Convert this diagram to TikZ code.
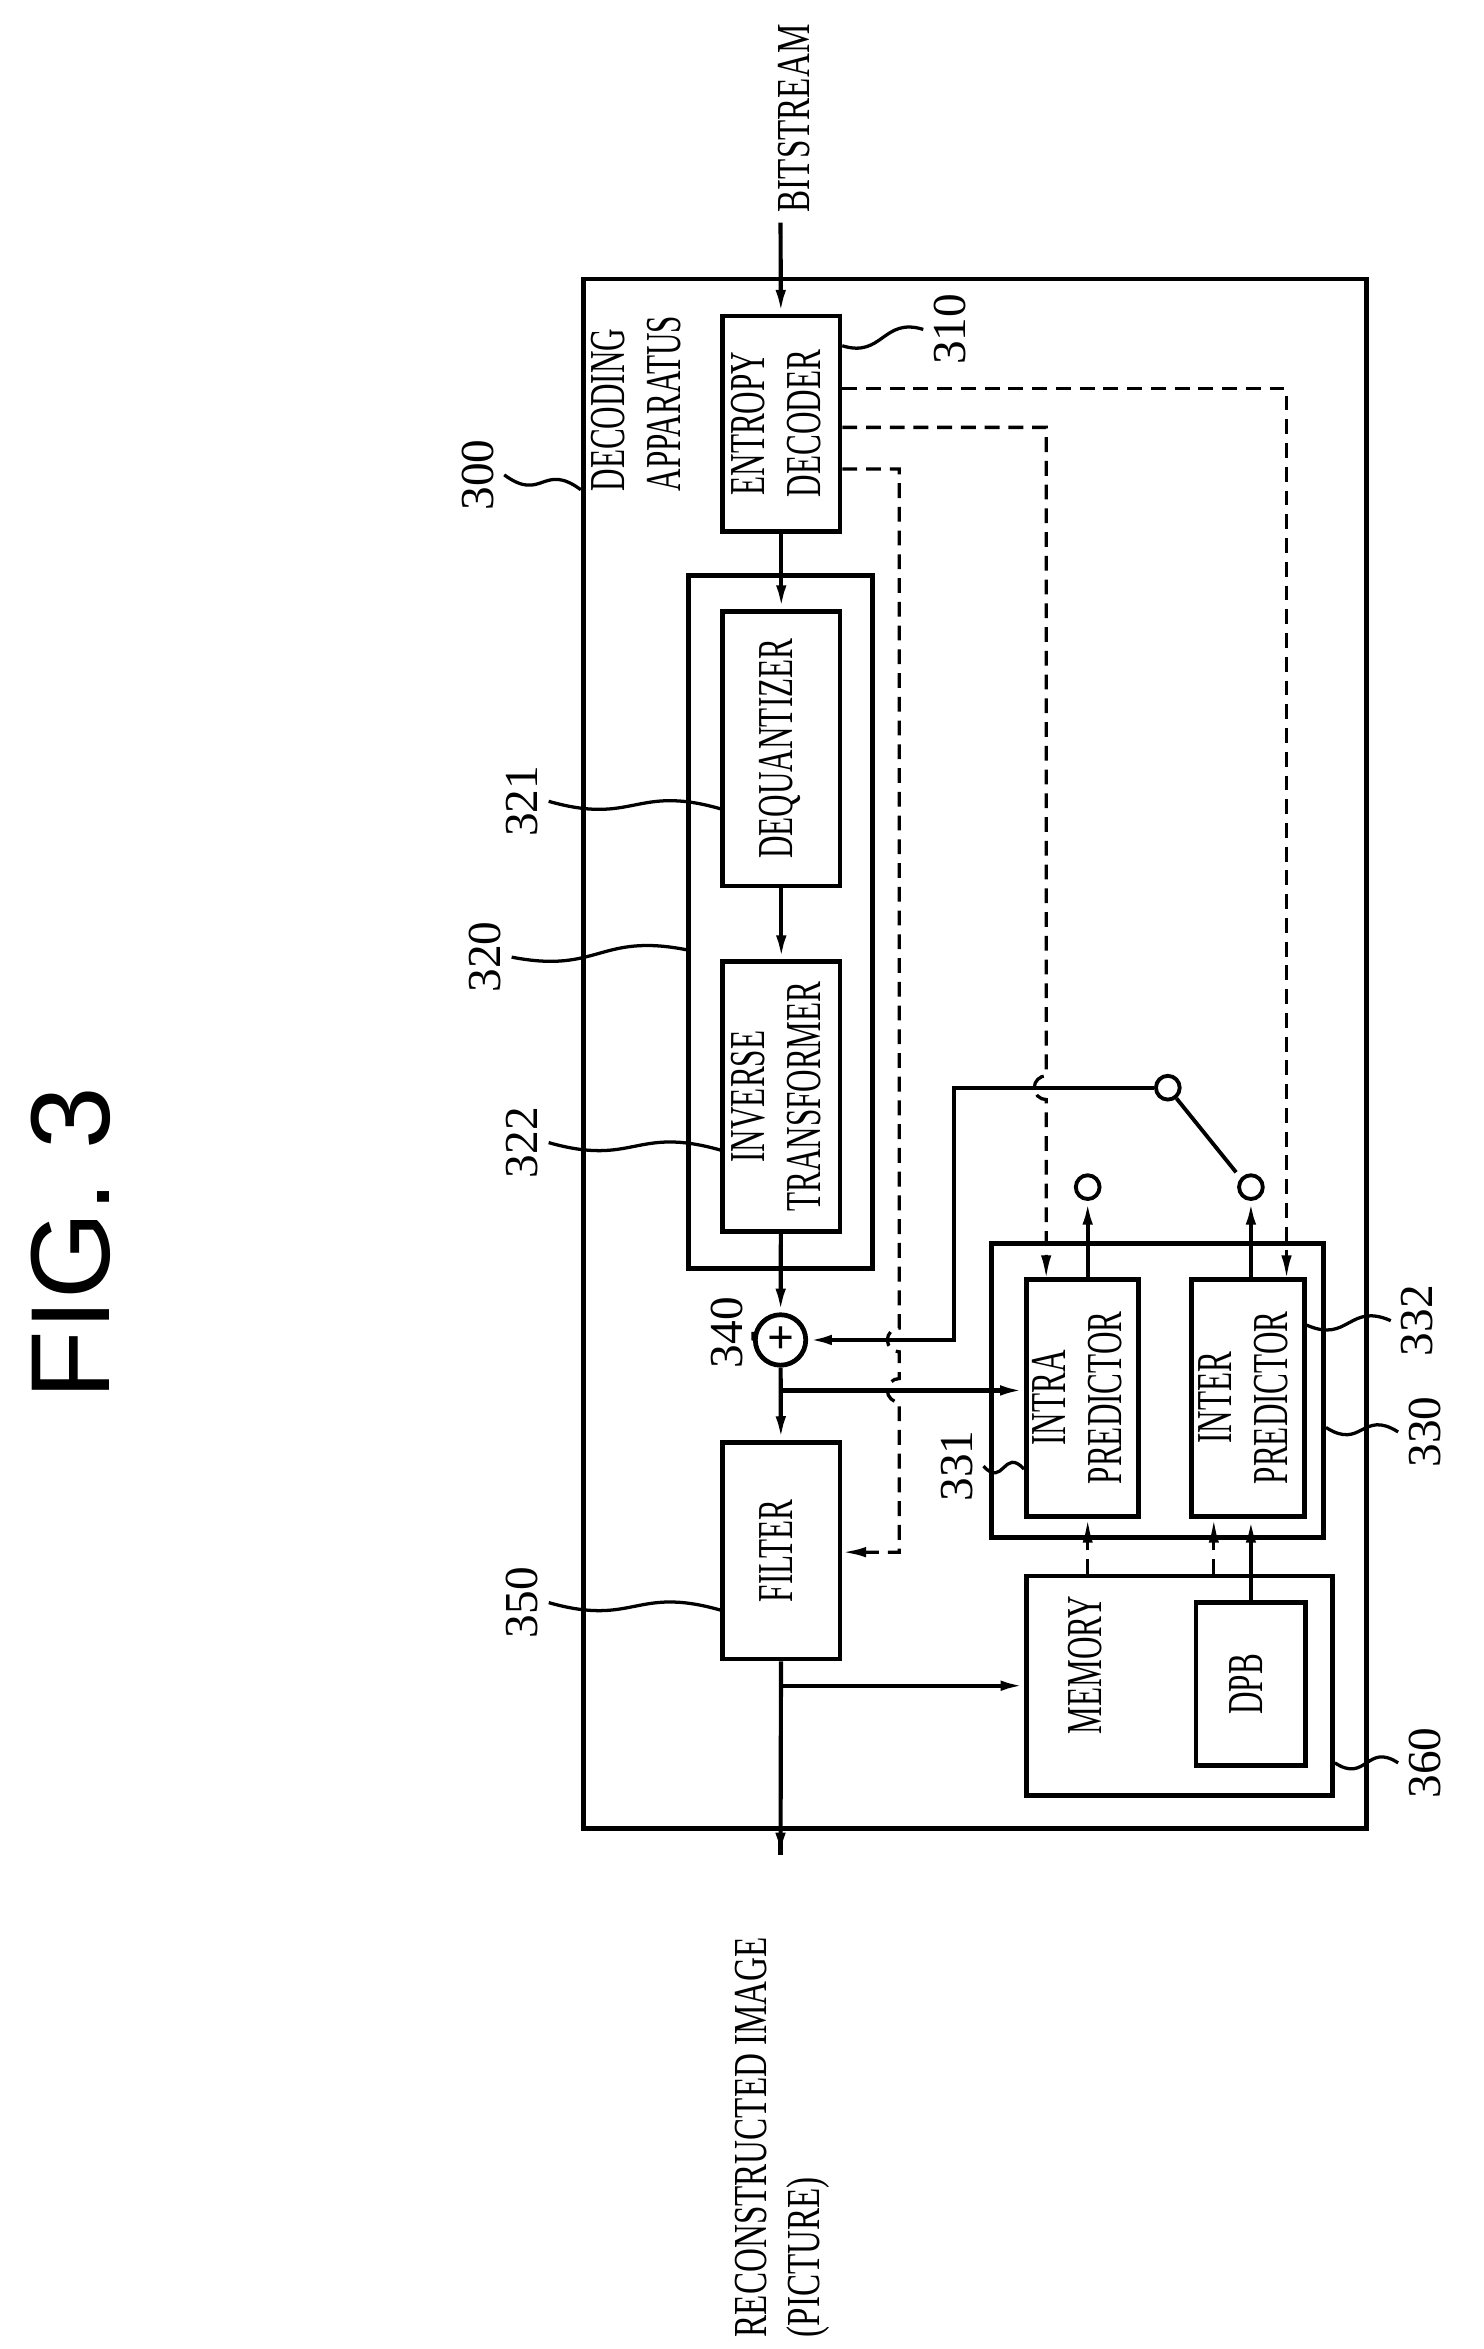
\documentclass[tikz,border=0pt]{standalone}
\usepackage{fontspec}
\setmainfont{Liberation Serif}
\newfontfamily\figfont{Liberation Sans}
\usetikzlibrary{positioning,calc,arrows.meta}

\newcommand{\vtext}[1]{\rotatebox{90}{\scalebox{0.62}[1]{\begin{tabular}{@{}c@{}}#1\end{tabular}}}}
\newcommand{\lead}[2]{\draw[thin lead] (#1) .. controls ($(#1)!0.5!(#2)+(0,14)$) and ($(#1)!0.5!(#2)+(0,-14)$) .. (#2);}

\tikzset{
  box/.style={draw, line width=1.6bp, inner sep=0pt, font=\fontsize{17}{19}\selectfont},
  sig/.style={line width=1.4bp, -{Latex[length=8bp,width=3.5bp]}},
  ctl/.style={line width=1.1bp, dash pattern=on 5bp off 3bp, -{Latex[length=8bp,width=3.5bp]}},
  thin lead/.style={line width=1.1bp},
  num/.style={rotate=90, font=\fontsize{16}{18}\selectfont},
  port/.style={draw, circle, line width=1.3bp, minimum size=8bp, inner sep=0pt}
}

\begin{document}
\begin{tikzpicture}[x=0.5bp, y=-0.5bp]
\useasboundingbox (0,0) rectangle (1000,1583);

% title and terminals
\node[rotate=90, font=\figfont\fontsize{38}{40}\selectfont] (fig) at (48,838) {FIG. 3};
\node[rotate=90, anchor=west, font=\fontsize{16}{18}\selectfont] (bits) at (535,150) {\scalebox{0.7}[1]{BITSTREAM}};
\node[rotate=90, anchor=west, font=\fontsize{16}{18}\selectfont] (recon) at (527,1582)
  {\scalebox{0.7}[1]{\begin{tabular}{@{}l@{}}RECONSTRUCTED IMAGE\\(PICTURE)\end{tabular}}};
\coordinate (bitin) at (526,150);
\coordinate (recout) at (526,1250);

% boxes
\node[box, minimum width=264bp, minimum height=522bp] (dev) at (657,710) {};
\node[rotate=90, font=\fontsize{17}{19}\selectfont] (devtxt) at (432,272) {\scalebox{0.62}[1]{\begin{tabular}{@{}l@{}}DECODING\\APPARATUS\end{tabular}}};
\node[box, minimum width=39.5bp, minimum height=72.5bp] (ent) at (526.5,285.5) {\vtext{ENTROPY\\DECODER}};
\node[box, minimum width=62bp, minimum height=233.5bp] (res) at (526,621.5) {};
\node[box, minimum width=39.5bp, minimum height=92.5bp] (deq) at (526.5,504.5) {\vtext{DEQUANTIZER}};
\node[box, minimum width=39.5bp, minimum height=91bp] (itr) at (526.5,739) {\vtext{INVERSE\\TRANSFORMER}};
\node[draw, circle, line width=1.6bp, minimum size=17bp, inner sep=0pt, font=\fontsize{16}{16}\selectfont] (add) at (526,903) {\textbf{+}};
\node[box, minimum width=39.5bp, minimum height=73bp] (flt) at (526.5,1045) {\vtext{FILTER}};
\node[box, minimum width=112bp, minimum height=99bp] (pred) at (780,937) {};
\node[box, minimum width=37.5bp, minimum height=80bp] (intra) at (729.5,942) {\vtext{INTRA\\PREDICTOR}};
\node[box, minimum width=38bp, minimum height=80bp] (inter) at (841,942) {\vtext{INTER\\PREDICTOR}};
\node[box, minimum width=103bp, minimum height=74bp] (mem) at (795,1136) {};
\node[font=\fontsize{17}{19}\selectfont] (memtxt) at (735,1122) {\vtext{MEMORY}};
\node[box, minimum width=37bp, minimum height=55bp] (dpb) at (843,1135) {\vtext{DPB}};

% switch
\node[port] (swc) at (787,733) {};
\node[port] (pin) at (733,800) {};
\node[port] (pout) at (843,800) {};
\coordinate (lever) at (833,790);
\coordinate (swl) at (643,733);

% main path
\draw[sig] (bitin) -- (ent);
\draw[sig] (ent) -- (deq);
\draw[sig] (deq) -- (itr);
\draw[sig] (itr) -- (add);
\draw[sig] (add) -- (flt);
\draw[line width=1.4bp] (flt) -- (recout);
\draw[sig] (recout) -- ++(0,1);
\draw[sig] (add.south |- 0,937) -- (intra.west |- 0,937);
\draw[sig] (flt.south |- 0,1136) -- (mem.west |- 0,1136);
\draw[sig] (swc.west) -- (swl) -- (swl |- add) -- (add.east);
\draw[line width=1.3bp] (swc) -- (lever);
\draw[sig] (intra.north -| pin) -- (pin);
\draw[sig] (inter.north -| pout) -- (pout);
\draw[sig] (dpb.north) -- (dpb.north |- inter.south);

% control lines
\draw[ctl] (ent.east |- 0,262) -- (867,262) -- (867,862);
\draw[ctl] (ent.east |- 0,288) -- (705,288) -- (705,725)
  arc[start angle=90, end angle=270, radius=4bp] -- (705,862);
\draw[ctl] (ent.east |- 0,316) -- (606,316) -- (606,895)
  arc[start angle=90, end angle=270, radius=4bp] -- (606,929)
  arc[start angle=90, end angle=270, radius=4bp] -- (606,1046) -- (flt.east |- 0,1046);
\draw[ctl] (mem.north -| 733,0) -- (intra.south -| 733,0);
\draw[ctl] (mem.north -| 818,0) -- (inter.south -| 818,0);

% reference numerals
\node[num] (n300) at (322,320) {300};
\node[num] (n310) at (640,222) {310};
\node[num] (n321) at (352,540) {321};
\node[num] (n320) at (327,645) {320};
\node[num] (n322) at (352,770) {322};
\node[num] (n340) at (490,898) {340};
\node[num] (n331) at (645,988) {331};
\node[num] (n332) at (955,890) {332};
\node[num] (n330) at (960,965) {330};
\node[num] (n360) at (960,1188) {360};
\node[num] (n350) at (352,1080) {350};
\lead{n300.south}{dev.west |- 0,330}
\lead{ent.east |- 0,233}{n310.north}
\lead{n321.south}{deq.west |- 0,545}
\lead{n320.south}{res.west |- 0,640}
\lead{n322.south}{itr.west |- 0,775}
\lead{n340.south}{add.west}
\lead{n331.south}{intra.west |- 0,990}
\lead{inter.east |- 0,893}{n332.north}
\lead{pred.east |- 0,962}{n330.north}
\lead{mem.east |- 0,1188}{n360.north}
\lead{n350.south}{flt.west |- 0,1085}
\end{tikzpicture}
\end{document}
